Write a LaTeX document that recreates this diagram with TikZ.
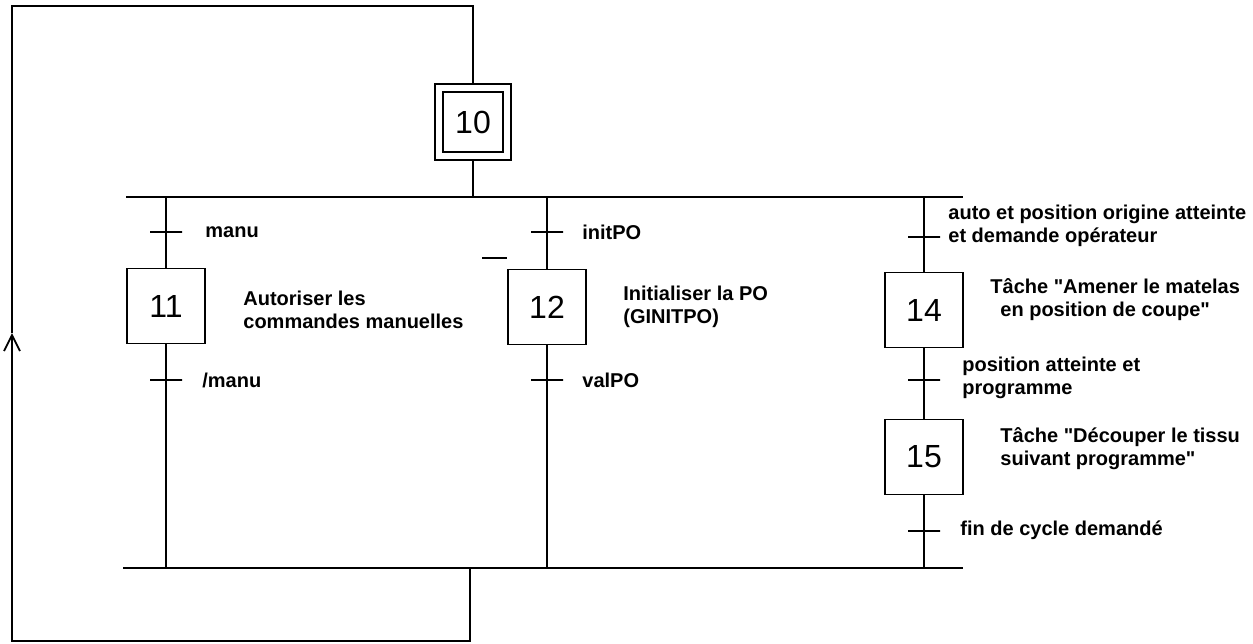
\documentclass[tikz,border=0pt]{standalone}
\usepackage{fontspec}
\setmainfont{Liberation Sans}
\usetikzlibrary{positioning, arrows.meta}

\begin{document}
\begin{tikzpicture}[
    x=0.5pt, y=-0.5pt,
    etape/.style={draw, line width=0.8pt, rectangle, minimum width=39pt, minimum height=37.5pt, inner sep=0pt, font=\fontsize{16}{18}\selectfont},
    etapeInit/.style={etape, double, double distance=3.2pt, minimum width=34pt, minimum height=34pt, outer sep=2.4pt},
    trans/.style={draw, line width=0.8pt, rectangle, minimum width=16pt, minimum height=0pt, inner sep=0pt},
    line/.style={draw, line width=0.9pt},
    lbl/.style={anchor=west, align=left, inner sep=0pt, font=\fontsize{10}{11.5}\selectfont\bfseries},
    >={Straight Barb[length=8pt, width=8pt]},
]
\useasboundingbox (0,0) rectangle (1253,643);
\node[etapeInit] (s10) at (473,122) {10};
\node[etape]     (s11) at (166,306) {11};
\node[etape]     (s12) at (547,307) {12};
\node[etape]     (s14) at (924,310) {14};
\node[etape]     (s15) at (924,457) {15};
\node[trans] (t11in)  at (166,232) {};
\node[trans] (t11out) at (166,380) {};
\node[trans] (t12in)  at (547,232) {};
\node[trans] (t12out) at (547,380) {};
\node[trans] (t14in)  at (924,237) {};
\node[trans] (t14out) at (924,380) {};
\node[trans] (t15out) at (924,531) {};
\node[lbl] (l11in)  at (205,232) {manu};
\node[lbl] (l11out) at (202,380) {/manu};
\node[lbl] (a11)    at (243,310) {Autoriser les\\commandes manuelles};
\node[lbl] (l12in)  at (582,232) {initPO};
\node[lbl] (l12out) at (582,380) {valPO};
\node[lbl] (a12)    at (623,307) {Initialiser la PO\\(GINITPO)};
\node[lbl] (l14in)  at (948,226) {auto et position origine atteinte\\et demande opérateur};
\node[lbl] (a14)    at (990,300) {Tâche \textquotedbl Amener le matelas\\\hspace*{5pt}en position de coupe\textquotedbl};
\node[lbl] (l14out) at (962,378) {position atteinte et\\programme};
\node[lbl] (a15)    at (1000,449) {Tâche \textquotedbl Découper le tissu\\suivant programme\textquotedbl};
\node[lbl] (l15out) at (960,530) {fin de cycle demandé};
\coordinate (divL)  at (126,197);
\coordinate (divR)  at (963,197);
\coordinate (div10) at (473,197);
\coordinate (b11)   at (166,197);
\coordinate (b12)   at (547,197);
\coordinate (b14)   at (924,197);
\coordinate (convL) at (123,568);
\coordinate (convR) at (963,568);
\coordinate (c11)   at (166,568);
\coordinate (c12)   at (547,568);
\coordinate (c15)   at (924,568);
\coordinate (ret)    at (470,568);
\coordinate (loopBL) at (12,641);
\coordinate (loopUp) at (12,333);
\coordinate (loopTR) at (473,6);
\draw[line] (s10) -- (div10);
\draw[line] (divL) -- (divR);
\draw[line] (b11) -- (s11);
\draw[line] (s11) -- (c11);
\draw[line] (b12) -- (s12);
\draw[line] (s12) -- (c12);
\draw[line] (b14) -- (s14);
\draw[line] (s14) -- (s15);
\draw[line] (s15) -- (c15);
\draw[line] (convL) -- (convR);
\draw[line, ->] (ret) |- (loopBL) -- (loopUp);
\draw[line] (loopUp) |- (loopTR) -- (s10);
\draw[line] (482,258) -- (507,258);
\end{tikzpicture}
\end{document}
